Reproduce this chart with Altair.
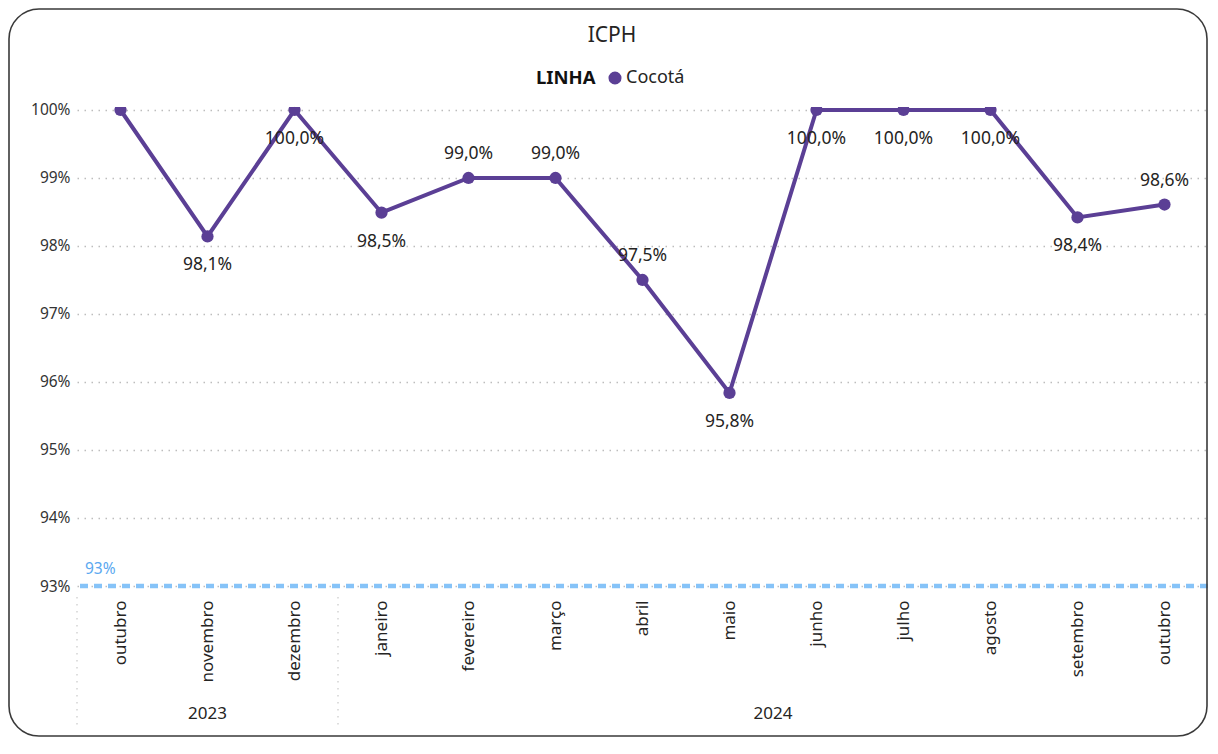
import altair as alt
import pandas as pd

# ---- data ----
titulo = "ICPH"
meses = ["outubro", "novembro", "dezembro", "janeiro", "fevereiro", "março", "abril",
         "maio", "junho", "julho", "agosto", "setembro", "outubro"]
anos = [2023, 2023, 2023, 2024, 2024, 2024, 2024, 2024, 2024, 2024, 2024, 2024, 2024]
valores = [100.0, 98.14, 100.0, 98.49, 99.0, 99.0, 97.5, 95.84, 100.0, 100.0, 100.0, 98.42, 98.61]
posicao_rotulo = ["none", "below", "below", "below", "above", "above", "above",
                  "below", "below", "below", "below", "below", "above"]
linha = "Cocotá"
meta = [93]
y_ticks = [93, 94, 95, 96, 97, 98, 99, 100]

chaves = [f"{m} {a}" for m, a in zip(meses, anos)]
df = pd.DataFrame({"chave": chaves, "valor": valores, "pos": posicao_rotulo,
                   "linha": [linha] * len(meses)})
df_meta = pd.DataFrame({"meta": meta})
df_sep = pd.DataFrame({"chave": ["outubro 2023", "janeiro 2024"]})
df_ano23 = pd.DataFrame({"chave": ["novembro 2023"], "ano": ["2023"]})
df_ano24 = pd.DataFrame({"chave": ["maio 2024"], "ano": ["2024"]})
df_frame = pd.DataFrame({"a": [0]})
df_title = pd.DataFrame({"t": [titulo]})

FONT = "Segoe UI, Noto Sans, sans-serif"
PURPLE = "#5B3F95"
TXT = "#252423"

xscale = alt.Scale(type="band", domain=chaves, paddingInner=0, paddingOuter=0)
x_enc = alt.X("chave:N", scale=xscale, sort=chaves,
              axis=alt.Axis(title=None, labelAngle=270, labelPadding=14, labelFontSize=17,
                            labelColor=TXT, labelFont=FONT, domain=False, ticks=False,
                            grid=False, labelExpr="split(datum.label, ' ')[0]"))
yscale = alt.Scale(domain=[93, 100.044], nice=False, zero=False)
y_enc = alt.Y("valor:Q", scale=yscale,
              axis=alt.Axis(title=None, values=y_ticks, labelExpr="datum.value + '%'",
                            domain=False, ticks=False, labelPadding=7, labelFontSize=15.5,
                            labelColor="#333333", labelFont=FONT, grid=True,
                            gridColor="#BDBDBD", gridDash=[1.5, 5.5], gridWidth=1.5))

base = alt.Chart(df)

ref_line = alt.Chart(df_meta).mark_rule(color="#86C3F8", strokeWidth=4.5, strokeDash=[8, 6]).encode(
    y=alt.Y("meta:Q", scale=yscale))
ref_label = alt.Chart(df_meta).transform_calculate(
    txt="datum.meta + '%'").mark_text(align="left", baseline="middle", dy=-17, fontSize=15.5,
                                      color="#5AA8F0", font=FONT).encode(
    y=alt.Y("meta:Q", scale=yscale), x=alt.value(8), text="txt:N")

line = base.mark_line(color=PURPLE, strokeWidth=4).encode(x=x_enc, y=y_enc)
points = base.mark_point(filled=True, opacity=1, size=150, shape="circle", clip=True).encode(
    x=x_enc, y=y_enc,
    color=alt.Color("linha:N", scale=alt.Scale(range=[PURPLE]),
                    legend=alt.Legend(title="LINHA", orient="none", legendX=459, legendY=-38,
                                      titleOrient="left", titleFontWeight="bold",
                                      titleFontSize=18.5, titleColor="#111111",
                                      titleFont=FONT, titlePadding=10, labelFontSize=18,
                                      labelColor=TXT, labelFont=FONT, symbolType="circle",
                                      symbolSize=170, labelOffset=2, direction="horizontal")))

lab_fmt = "replace(format(datum.valor, '.1f'), '.', ',') + '%'"
labels_above = base.transform_filter("datum.pos == 'above'").transform_calculate(
    txt=lab_fmt).mark_text(baseline="middle", dy=-24, fontSize=17.5, color=TXT, font=FONT).encode(
    x=x_enc, y=y_enc, text="txt:N")
labels_below = base.transform_filter("datum.pos == 'below'").transform_calculate(
    txt=lab_fmt).mark_text(baseline="middle", dy=29, fontSize=17.5, color=TXT, font=FONT).encode(
    x=x_enc, y=y_enc, text="txt:N")

seps = alt.Chart(df_sep).mark_rule(color="#C8C8C8", strokeDash=[1.5, 5.5], strokeWidth=1.2).encode(
    x=alt.X("chave:N", scale=xscale, bandPosition=0), y=alt.value(490), y2=alt.value(623))
ano23 = alt.Chart(df_ano23).mark_text(fontSize=17, color=TXT, font=FONT, baseline="middle").encode(
    x=alt.X("chave:N", scale=xscale, bandPosition=0.5), y=alt.value(607), text="ano:N")
ano24 = alt.Chart(df_ano24).mark_text(fontSize=17, color=TXT, font=FONT, baseline="middle").encode(
    x=alt.X("chave:N", scale=xscale, bandPosition=1), y=alt.value(607), text="ano:N")

title_mark = alt.Chart(df_title).mark_text(fontSize=21, color=TXT, font=FONT,
                                           baseline="middle", align="center").encode(
    x=alt.value(535), y=alt.value(-71), text="t:N")

frame = alt.Chart(df_frame).mark_rect(filled=False, stroke="#3A3A3A", strokeWidth=1.6,
                                      cornerRadius=30).encode(
    x=alt.value(-68), x2=alt.value(1130), y=alt.value(-98), y2=alt.value(629))

chart = alt.layer(ref_line, ref_label, line, points, labels_above, labels_below,
                  seps, ano23, ano24, title_mark, frame).properties(
    width=1131, height=479,
    padding={"left": 69, "top": 99, "right": 0, "bottom": 152},
    autosize=alt.AutoSizeParams(type="none"),
    background="white",
).configure_view(strokeWidth=0)

chart.save("out.html", embed_options={"renderer": "svg", "actions": False})
